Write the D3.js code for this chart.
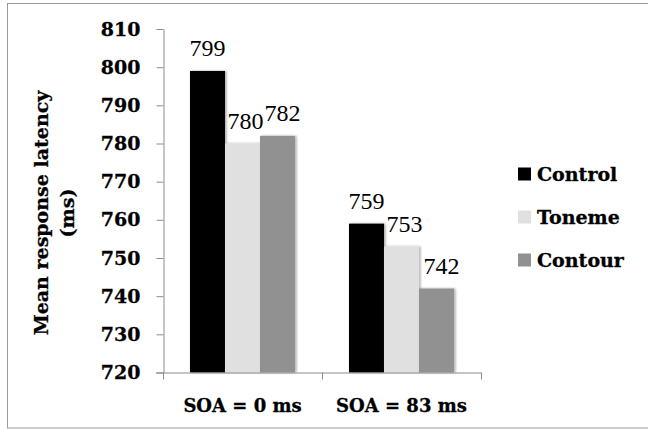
<!DOCTYPE html>
<html>
<head>
<meta charset="utf-8">
<script src="https://cdn.jsdelivr.net/npm/d3@7"></script>
<style>
  html, body { margin: 0; padding: 0; background: #fff; }
  svg { display: block; }
</style>
</head>
<body>
<svg id="chart" width="648" height="429"></svg>
<script>
const categories = ["SOA = 0 ms", "SOA = 83 ms"];
const seriesNames = ["Control", "Toneme", "Contour"];
const control = [799, 759];
const toneme = [780, 753];
const contour = [782, 742];
const yTicks = [720, 730, 740, 750, 760, 770, 780, 790, 800, 810];
const colors = ["#000000", "#e0e0e0", "#919191"];

const seriesValues = [control, toneme, contour];
const svg = d3.select("#chart");

const boldFont = "'DejaVu Serif', serif";
const regFont = "'Liberation Serif', serif";

// outer frame
svg.append("rect").attr("x", 7.5).attr("y", 3.5).attr("width", 648).attr("height", 424.5)
  .attr("fill", "#fff").attr("stroke", "#9a9a9a").attr("stroke-width", 1);

const x = d3.scaleBand().domain(categories).range([163, 481]).paddingInner(0).paddingOuter(0);
const xs = d3.scaleBand().domain(seriesNames).range([0, x.bandwidth()]).paddingInner(0).paddingOuter(0.77);
const y = d3.scaleLinear().domain([720, 810]).range([372.5, 29]);

// shadow filter
const defs = svg.append("defs");
const f = defs.append("filter").attr("id", "sh").attr("x", "-20%").attr("y", "-5%").attr("width", "140%").attr("height", "110%");
f.append("feDropShadow").attr("dx", 1.5).attr("dy", 0).attr("stdDeviation", 0.8).attr("flood-color", "#000").attr("flood-opacity", 0.35);

// y axis
const yAxis = svg.append("g").attr("transform", "translate(163.5,0)")
  .call(d3.axisLeft(y).tickValues(yTicks).tickSize(7).tickSizeOuter(0).tickPadding(16));
yAxis.attr("font-family", boldFont);
yAxis.select(".domain").attr("stroke", "#8c8c8c");
yAxis.selectAll(".tick line").attr("stroke", "#8c8c8c");
yAxis.selectAll(".tick text").attr("font-family", boldFont).attr("font-weight", "bold")
  .attr("font-size", 19).attr("fill", "#000").attr("stroke", "#000").attr("stroke-width", 0.3);

// bars
seriesNames.forEach((s, si) => {
  svg.append("g").selectAll("rect").data(categories).join("rect")
    .attr("x", c => x(c) + xs(s))
    .attr("y", (c, i) => y(seriesValues[si][i]))
    .attr("width", xs.bandwidth())
    .attr("height", (c, i) => y(720) - y(seriesValues[si][i]))
    .attr("fill", colors[si])
    .attr("filter", "url(#sh)");
});

// x axis
const xg = svg.append("g");
xg.append("line").attr("x1", 156).attr("x2", 481).attr("y1", y(720) + 0.5).attr("y2", y(720) + 0.5)
  .attr("stroke", "#8c8c8c");
const edges = categories.map(c => x(c)).concat([x(categories[categories.length - 1]) + x.bandwidth()]);
xg.selectAll("line.tk").data(edges).join("line").attr("class", "tk")
  .attr("x1", d => Math.round(d) + 0.5).attr("x2", d => Math.round(d) + 0.5)
  .attr("y1", y(720)).attr("y2", y(720) + 7).attr("stroke", "#8c8c8c");
xg.selectAll("text").data(categories).join("text")
  .attr("x", c => x(c) + x.bandwidth() / 2).attr("y", 412)
  .attr("text-anchor", "middle").attr("font-family", boldFont).attr("font-weight", "bold")
  .attr("font-size", 18).attr("stroke", "#000").attr("stroke-width", 0.3).text(c => c);

// value labels
seriesNames.forEach((s, si) => {
  svg.append("g").selectAll("text").data(categories).join("text")
    .attr("x", c => x(c) + xs(s) + xs.bandwidth() / 2 + (si === 1 ? 3 : si === 2 ? 5 : 0))
    .attr("y", (c, i) => y(seriesValues[si][i]) - 15)
    .attr("text-anchor", "middle").attr("font-family", regFont)
    .attr("font-size", 24).attr("fill", "#000")
    .text((c, i) => seriesValues[si][i]);
});

// y title
const yt = svg.append("text").attr("transform", "rotate(-90)")
  .attr("font-family", boldFont).attr("font-weight", "bold").attr("font-size", 19)
  .attr("stroke", "#000").attr("stroke-width", 0.3)
  .attr("text-anchor", "middle");
yt.append("tspan").attr("x", -213).attr("y", 48).text("Mean response latency");
yt.append("tspan").attr("x", -213).attr("y", 74).text("(ms)");

// legend
const lg = svg.append("g");
seriesNames.forEach((s, si) => {
  const cy = 174 + si * 43;
  lg.append("rect").attr("x", 518).attr("y", cy - 6.5).attr("width", 13).attr("height", 13).attr("fill", colors[si]);
  lg.append("text").attr("x", 537).attr("y", cy + 7).attr("font-family", boldFont).attr("font-weight", "bold")
    .attr("font-size", 19).attr("stroke", "#000").attr("stroke-width", 0.3).text(s);
});
</script>
</body>
</html>
